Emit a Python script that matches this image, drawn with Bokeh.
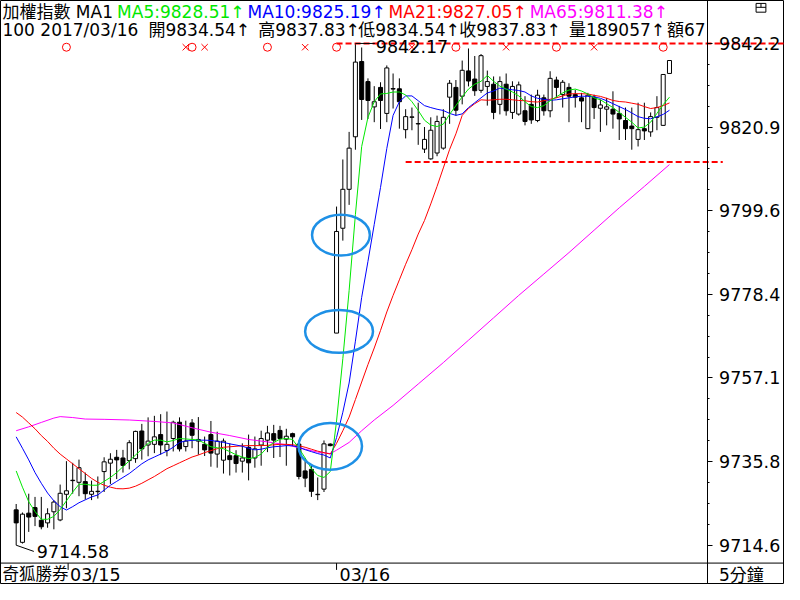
from bokeh.plotting import figure
from bokeh.models import (Range1d, LinearAxis, FixedTicker, NumeralTickFormatter,
                          Label, Span)
from bokeh.embed import file_html
from bokeh.resources import INLINE

# ---------------- data ----------------
opens = [9723.57, 9715.31, 9722.73, 9724.14, 9720.92, 9720.26, 9723.08, 9721.0, 9727.53, 9731.0,
         9730.58, 9730.75, 9727.53, 9728.2, 9733.3, 9735.45, 9736.94, 9736.76, 9736.1, 9736.59,
         9743.62, 9740.06, 9740.23, 9742.71, 9738.67, 9741.71, 9745.85, 9739.66, 9745.67, 9741.05,
         9740.23, 9742.71, 9737.75, 9736.2, 9737.34, 9737.34, 9735.95, 9739.49, 9736.76, 9740.06,
         9741.29, 9742.95, 9743.77, 9741.54, 9742.95, 9740.3, 9733.47, 9733.87, 9727.43, 9728.84,
         9740.3, 9768.52, 9795.18, 9805.08, 9818.44, 9837.57, 9832.47, 9826.04, 9830.99, 9824.38,
         9830.57, 9830.64, 9820.25, 9823.39, 9821.7, 9815.3, 9812.82, 9814.31, 9815.55, 9828.51,
         9830.99, 9828.76, 9835.19, 9833.12, 9830.25, 9831.24, 9831.8, 9826.68, 9831.8, 9824.63,
         9824.21, 9825.05, 9826.68, 9822.57, 9828.34, 9825.05, 9832.87, 9829.16, 9830.99, 9829.16,
         9828.34, 9820.5, 9828.51, 9825.69, 9825.45, 9825.45, 9824.38, 9822.57, 9821.16, 9817.77,
         9820.5, 9819.68, 9823.39, 9821.34, 9834.54]
highs = [9725.06, 9722.9, 9727.68, 9726.86, 9726.86, 9723.97, 9726.05, 9730.0, 9735.95, 9735.53,
         9736.35, 9733.05, 9731.0, 9732.06, 9736.94, 9737.97, 9738.82, 9738.82, 9741.29, 9743.7,
         9745.43, 9747.09, 9747.48, 9747.9, 9748.57, 9746.25, 9747.09, 9746.25, 9746.67, 9747.16,
         9742.21, 9746.17, 9743.45, 9741.71, 9740.48, 9738.74, 9740.48, 9742.71, 9742.21, 9743.7,
         9744.93, 9745.18, 9744.93, 9744.19, 9743.2, 9741.22, 9736.76, 9734.79, 9731.81, 9741.22,
         9740.48, 9800.69, 9812.67, 9819.68, 9842.17, 9841.14, 9833.29, 9831.31, 9832.3, 9836.58,
         9834.53, 9833.29, 9825.45, 9825.87, 9827.1, 9820.92, 9823.39, 9823.81, 9825.45, 9832.87,
         9832.87, 9837.82, 9840.89, 9838.98, 9839.48, 9835.27, 9833.78, 9833.78, 9834.53, 9832.55,
         9832.47, 9828.76, 9829.16, 9830.39, 9829.16, 9835.1, 9833.71, 9832.87, 9832.05, 9830.39,
         9829.6, 9829.6, 9829.16, 9827.92, 9828.34, 9830.0, 9826.29, 9825.87, 9825.87, 9827.1,
         9827.1, 9824.63, 9828.76, 9834.3, 9837.83]
lows = [9714.58, 9715.0, 9717.96, 9719.44, 9718.62, 9719.02, 9718.62, 9720.68, 9723.97, 9727.68,
        9727.04, 9726.2, 9726.05, 9726.44, 9728.11, 9730.16, 9731.4, 9733.05, 9733.87, 9735.53,
        9736.35, 9737.19, 9738.0, 9737.58, 9737.19, 9738.42, 9738.42, 9738.42, 9739.24, 9737.58,
        9737.26, 9734.54, 9734.29, 9732.8, 9732.31, 9733.05, 9733.05, 9731.07, 9734.29, 9734.79,
        9738.25, 9736.76, 9737.0, 9734.79, 9739.74, 9731.32, 9729.34, 9726.86, 9726.05, 9728.11,
        9739.74, 9768.52, 9792.03, 9801.12, 9815.15, 9822.72, 9822.97, 9822.15, 9820.42, 9822.15,
        9825.62, 9820.5, 9818.02, 9820.1, 9816.39, 9814.31, 9812.6, 9813.49, 9815.15, 9821.73,
        9823.81, 9826.68, 9831.24, 9828.84, 9829.6, 9826.36, 9822.9, 9824.13, 9823.81, 9822.97,
        9823.81, 9821.34, 9821.73, 9822.15, 9823.81, 9823.39, 9828.34, 9825.87, 9822.15, 9825.87,
        9822.15, 9820.4, 9822.97, 9819.68, 9821.34, 9820.5, 9817.62, 9817.62, 9815.15, 9815.97,
        9817.62, 9818.44, 9820.1, 9821.3, 9834.54]
closes = [9720.26, 9722.48, 9721.74, 9721.91, 9719.27, 9722.58, 9725.55, 9727.78, 9728.42, 9731.1,
          9734.29, 9727.68, 9728.28, 9728.3, 9735.78, 9736.44, 9736.27, 9734.86, 9740.65, 9743.52,
          9739.07, 9741.05, 9742.14, 9740.06, 9740.23, 9745.85, 9739.07, 9741.05, 9742.53, 9741.47,
          9738.82, 9738.0, 9741.05, 9741.05, 9736.35, 9735.35, 9736.76, 9735.53, 9739.07, 9741.71,
          9743.13, 9741.29, 9741.71, 9742.29, 9742.14, 9732.06, 9731.64, 9728.28, 9727.53, 9740.35,
          9739.9, 9794.36, 9805.08, 9815.55, 9837.42, 9827.92, 9827.67, 9827.35, 9827.67, 9835.94,
          9830.7, 9827.35, 9823.56, 9823.5, 9821.8, 9817.77, 9820.1, 9822.33, 9823.39, 9832.05,
          9825.2, 9835.34, 9832.62, 9830.15, 9839.06, 9832.47, 9824.63, 9832.47, 9825.05, 9831.24,
          9831.63, 9822.33, 9822.72, 9829.01, 9825.05, 9833.29, 9830.99, 9832.3, 9828.76, 9828.51,
          9827.52, 9829.01, 9825.87, 9826.53, 9826.04, 9824.21, 9822.97, 9820.5, 9820.5, 9820.25,
          9819.93, 9823.56, 9825.87, 9834.28, 9837.83]

ma5 = [9733.47, 9729.34, 9725.63, 9723.15, 9721.17, 9721.17, 9721.91, 9723.65, 9725.87, 9728.1,
       9730.08, 9730.08, 9729.83, 9729.83, 9730.82, 9731.81, 9733.05, 9734.54, 9736.02, 9737.51,
       9738.99, 9740.48, 9741.29, 9741.29, 9740.85, 9741.22, 9741.71, 9741.59, 9741.47, 9741.34,
       9740.48, 9739.61, 9739.36, 9739.12, 9738.37, 9737.58, 9737.01, 9736.59, 9736.89, 9737.75,
       9739.49, 9740.72, 9741.54, 9741.71, 9741.47, 9739.24, 9736.76, 9734.04, 9732.31, 9731.81,
       9733.3, 9746.17, 9762.01, 9779.33, 9798.64, 9815.96, 9823.39, 9827.35, 9829.33, 9829.45,
       9829.82, 9829.82, 9829.08, 9827.35, 9825.12, 9822.65, 9821.41, 9821.04, 9821.66, 9824.13,
       9826.36, 9828.59, 9830.57, 9831.8, 9832.55, 9834.03, 9832.55, 9831.31, 9830.57, 9829.82,
       9828.83, 9827.35, 9826.11, 9825.86, 9826.36, 9827.6, 9828.59, 9829.58, 9830.32, 9830.57,
       9830.07, 9829.33, 9828.34, 9827.84, 9826.85, 9825.86, 9824.63, 9823.39, 9822.15, 9820.67,
       9820.91, 9822.15, 9824.38, 9826.61, 9828.51]
ma10 = [9742.14, 9739.24, 9736.27, 9733.05, 9730.33, 9727.85, 9725.87, 9724.39, 9723.52, 9724.39,
        9725.38, 9726.12, 9726.86, 9727.36, 9728.6, 9729.83, 9730.82, 9731.81, 9732.8, 9734.04,
        9735.28, 9736.27, 9737.01, 9737.75, 9738.5, 9739.49, 9740.72, 9741.1, 9741.22, 9741.29,
        9741.29, 9741.22, 9740.97, 9740.72, 9740.35, 9740.06, 9739.74, 9739.24, 9738.82, 9738.99,
        9739.36, 9739.61, 9739.74, 9739.91, 9739.86, 9739.49, 9738.87, 9738.37, 9737.88, 9737.51,
        9736.76, 9741.96, 9748.4, 9755.82, 9766.46, 9777.6, 9786.76, 9796.16, 9805.57, 9815.47,
        9823.88, 9827.35, 9828.83, 9828.83, 9827.6, 9826.36, 9825.86, 9825.44, 9825.12, 9824.38,
        9823.88, 9824.26, 9825.86, 9827.1, 9828.34, 9829.58, 9830.07, 9830.81, 9830.57, 9830.39,
        9830.2, 9829.82, 9828.83, 9828.22, 9827.97, 9827.72, 9827.84, 9828.09, 9828.34, 9828.59,
        9828.76, 9828.71, 9828.59, 9828.22, 9827.6, 9826.85, 9826.11, 9825.37, 9824.5, 9823.56,
        9823.14, 9823.02, 9823.51, 9824.13, 9825.19]
ma21 = [9748.32, 9747.16, 9745.67, 9744.19, 9742.46, 9740.97, 9739.24, 9737.75, 9736.52, 9735.28,
        9734.04, 9732.8, 9731.57, 9730.58, 9729.83, 9729.34, 9728.97, 9728.92, 9729.09, 9729.59,
        9730.33, 9731.2, 9732.06, 9733.05, 9734.04, 9734.78, 9735.53, 9736.27, 9737.01, 9737.51,
        9738.13, 9738.62, 9739.12, 9739.49, 9739.61, 9739.74, 9739.86, 9739.91, 9739.91, 9739.91,
        9739.98, 9740.11, 9740.23, 9740.23, 9740.11, 9739.86, 9739.49, 9738.99, 9738.5, 9738.13,
        9737.75, 9740.48, 9743.69, 9747.16, 9751.61, 9756.07, 9760.52, 9764.73, 9769.19, 9773.89,
        9778.1, 9782.06, 9786.02, 9789.73, 9793.69, 9797.15, 9801.36, 9805.82, 9810.52, 9815.22,
        9819.18, 9823.88, 9825.62, 9826.85, 9827.84, 9827.72, 9827.84, 9827.97, 9827.97, 9827.84,
        9827.67, 9827.6, 9827.35, 9827.28, 9827.6, 9827.97, 9828.34, 9828.83, 9829.33, 9829.4,
        9829.38, 9829.33, 9828.96, 9828.71, 9828.22, 9827.67, 9827.4, 9827.28, 9826.98, 9826.68,
        9826.11, 9825.62, 9825.86, 9826.36, 9827.05]
ma65_idx = [0, 2, 4, 6, 7, 9, 11, 14, 18, 22, 25, 28, 31, 34, 37, 40, 43, 46, 48, 50,
            51, 53, 55, 57, 60, 64, 68, 72, 76, 80, 84, 88, 92, 96, 100, 104]
ma65 = [9743.69, 9744.68, 9745.8, 9746.91, 9747.28, 9747.04, 9746.66, 9746.59, 9746.42, 9746.05,
        9745.67, 9744.44, 9743.32, 9742.46, 9741.47, 9740.85, 9740.11, 9738.99, 9738.25, 9737.88,
        9738.74, 9740.72, 9743.69, 9746.42, 9750.13, 9755.57, 9761.02, 9766.71, 9772.4, 9778.1,
        9783.54, 9788.99, 9794.68, 9800.37, 9805.82, 9811.38]

signal_o = [8, 28, 40, 51, 70, 86, 103]
signal_x = [27, 30, 46, 63, 78, 92]
axis_ticks = [9714.58, 9735.845, 9757.11, 9778.375, 9799.64, 9820.905, 9842.17]
day_labels = ["03/15", "03/16"]
day_start = 51
support_level = 9812.0
support_start = 62
volume = 189057
amount = 67
ell_x = [51.7, 51.4, 50.0]
ell_y = [9793.44, 9768.94, 9739.73]
ell_w = [9.2, 10.8, 10.1]
ell_h = [10.4, 10.9, 11.9]

# ---------------- layout helpers (reference pixel grid -> data space) ----------------
def ix(px):
    return (px - 16.0) / 6.41

def vy(py):
    return 9853.09 - 0.2475 * py

FONT = "DejaVu Sans, Noto Sans CJK TC"
FS = "17px"
GREEN, BLUE, RED, MAG = "#00E800", "#0000FF", "#FF0000", "#FF00FF"

p = figure(width=784, height=584, output_backend="svg", toolbar_location=None,
           x_range=Range1d(ix(0), ix(800)), y_range=Range1d(vy(600), vy(0)),
           x_axis_location=None, y_axis_location=None,
           min_border_left=0, min_border_top=0, min_border_bottom=0, min_border_right=0)
p.background_fill_color = "white"
p.border_fill_color = "white"
p.outline_line_color = "black"
p.outline_line_width = 1
p.xgrid.grid_line_color = None
p.ygrid.grid_line_color = None

minor = [t0 + (t1 - t0) * k / 4 for t0, t1 in zip(axis_ticks[:-1], axis_ticks[1:]) for k in (1, 2, 3)]
ax = LinearAxis(ticker=FixedTicker(ticks=axis_ticks, minor_ticks=minor),
                formatter=NumeralTickFormatter(format="0.0"), fixed_location=ix(721))
ax.axis_line_color = "black"
ax.major_tick_line_color = "black"
ax.minor_tick_line_color = "black"
ax.major_tick_out = 5
ax.major_tick_in = 0
ax.minor_tick_out = 2
ax.minor_tick_in = 0
ax.major_label_standoff = 7
ax.major_label_text_font = "DejaVu Sans"
ax.major_label_text_font_size = "17.5px"
ax.major_label_text_color = "black"
p.add_layout(ax, "right")

# bottom bar separator
p.add_layout(Span(location=vy(578), dimension="width", line_color="black", line_width=1))

# candles
idx = list(range(len(closes)))
up = [i for i in idx if closes[i] >= opens[i]]
dn = [i for i in idx if closes[i] < opens[i]]
p.segment(x0=idx, y0=lows, x1=idx, y1=highs, line_color="black", line_width=1)
p.vbar(x=up, width=0.64, top=[closes[i] for i in up], bottom=[opens[i] for i in up],
       fill_color="white", line_color="black", line_width=1)
p.vbar(x=dn, width=0.64, top=[opens[i] for i in dn], bottom=[closes[i] for i in dn],
       fill_color="black", line_color="black", line_width=1)

# moving averages
p.line(ma65_idx, ma65, line_color=MAG, line_width=1)
p.line(idx, ma21, line_color=RED, line_width=1)
p.line(idx, ma10, line_color=BLUE, line_width=1)
p.line(idx, ma5, line_color=GREEN, line_width=1)

# dashed reference lines
hi = max(highs)
lo = min(lows)
p.segment(x0=[day_start, support_start], y0=[hi, support_level],
          x1=[ix(800), ix(737)], y1=[hi, support_level],
          line_color=RED, line_width=2, line_dash="6 3")

# signal markers
sig_level = vy(48)
p.scatter(signal_o, [sig_level] * len(signal_o), marker="circle", size=8,
          fill_color=None, line_color=RED, line_width=1)
p.scatter(signal_x, [sig_level] * len(signal_x), marker="x", size=9,
          line_color=RED, line_width=1)

# hand-drawn ellipses
p.ellipse(x=ell_x, y=ell_y, width=ell_w, height=ell_h, fill_color=None,
          line_color="#1E90E6", line_width=2.5)

# extreme value labels
hi_i = highs.index(hi)
lo_i = lows.index(lo)
p.line([hi_i, ix(382)], [hi, hi], line_color="black", line_width=1)
p.line([lo_i, ix(34)], [lo, vy(566)], line_color="black", line_width=1)


def lab(X, Y, text, color="black", align="left", size=FS):
    p.add_layout(Label(x=ix(X), y=vy(Y), text=text, text_color=color, text_font=FONT,
                       text_font_size=size, text_baseline="middle", text_align=align))


lab(383, 47, f"{hi:.2f}", size="17.5px")
lab(37, 566, f"{lo:.2f}", size="17.5px")

# header line 1
lab(2, 12, "加權指數 MA1")
lab(119, 12, f"MA5:{ma5[-1]:.2f}↑", GREEN)
lab(252, 12, f"MA10:{ma10[-1]:.2f}↑", BLUE)
lab(396, 12, f"MA21:{ma21[-1]:.2f}↑", RED)
lab(540, 12, f"MA65:{ma65[-1]:.2f}↑", MAG)
# header line 2
lab(2, 30, "100 2017/03/16")
lab(151, 30, f"開{opens[-1]:.2f}↑")
lab(263, 30, f"高{highs[-1]:.2f}↑")
lab(365, 30, f"低{lows[-1]:.2f}↑")
lab(468, 30, f"收{closes[-1]:.2f}↑")
lab(580, 30, f"量{volume}↑")
lab(680, 30, f"額{amount}")

# window icon (top right)
p.quad(left=[ix(771)], right=[ix(781)], top=[vy(3)], bottom=[vy(12)],
       fill_color=None, line_color="black", line_width=1)
p.segment(x0=[ix(771), ix(776)], y0=[vy(7), vy(3)], x1=[ix(781), ix(776)], y1=[vy(7), vy(7)],
          line_color="black", line_width=1)

# bottom bar
p.segment(x0=[ix(69), day_start], y0=[vy(578)] * 2, x1=[ix(69), day_start], y1=[vy(585)] * 2,
          line_color="black", line_width=1)
lab(2, 590, "奇狐勝券", size="16.5px")
lab(71, 590, day_labels[0], size="17.5px")
lab(346, 590, day_labels[1], size="17.5px")
lab(756, 590, "5分鐘", align="center")

open("out.html", "w").write(file_html(p, INLINE))
